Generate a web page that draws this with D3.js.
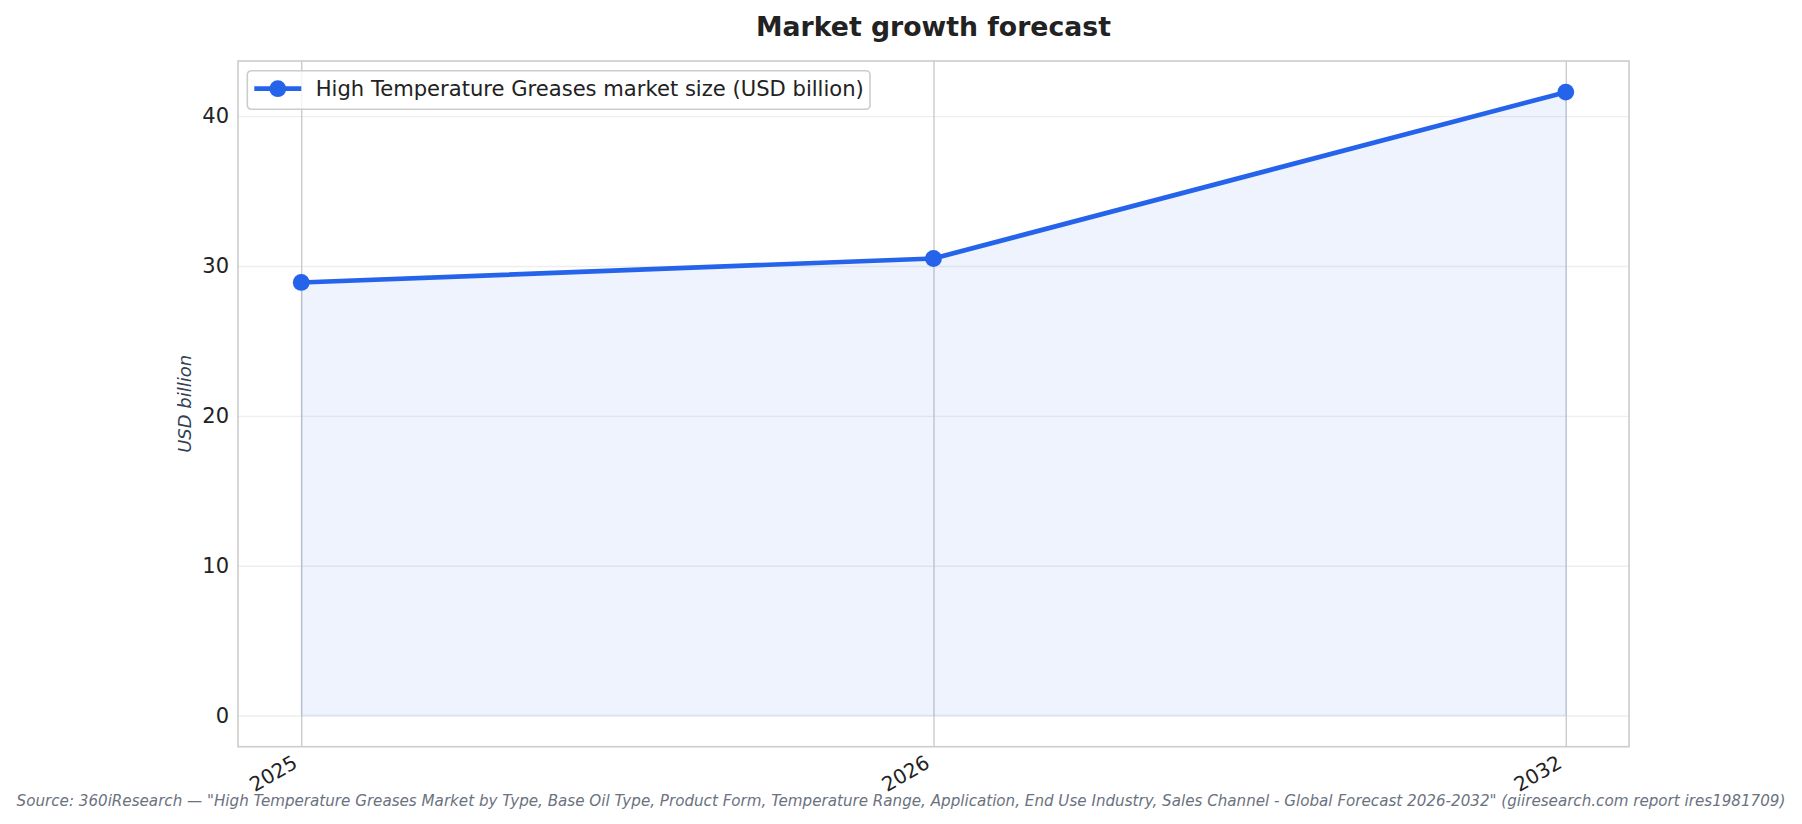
<!DOCTYPE html>
<html lang="en">
  <head>
    <meta charset="UTF-8" />
    <title>Market growth forecast</title>
    <style>
      body { margin: 0; background: #fff; }
      text { font-family: "DejaVu Sans", sans-serif; }
    </style>
  </head>
  <body>
    <svg id="svg" width="1802" height="824"></svg>

    <script src="https://cdn.jsdelivr.net/npm/d3@7"></script>
    <script>
      const WIDTH = 1802;
      const HEIGHT = 824;
      const PLOT = { left: 238, right: 1629, top: 61, bottom: 746.7 };
      const BLUE = "#2563eb";

      // data
      const YEARS = ["2025", "2026", "2032"];
      const VALUES = [28.9, 30.5, 41.6];
      const Y_TICKS = [0, 10, 20, 30, 40];
      const SERIES_LABEL = "High Temperature Greases market size (USD billion)";
      const TITLE = "Market growth forecast";
      const Y_LABEL = "USD billion";
      const SOURCE =
        'Source: 360iResearch \u2014 "High Temperature Greases Market by Type, Base Oil Type, Product Form, Temperature Range, Application, End Use Industry, Sales Channel - Global Forecast 2026-2032" (giiresearch.com report ires1981709)';

      const data = YEARS.map((year, i) => ({ year, value: VALUES[i] }));

      const svg = d3.select("#svg");
      svg.append("rect").attr("width", WIDTH).attr("height", HEIGHT).attr("fill", "#fff");

      // Scales
      const xScale = d3
        .scalePoint()
        .domain(YEARS)
        .range([PLOT.left, PLOT.right])
        .padding(0.1);

      const maxVal = d3.max(VALUES);
      const pad = maxVal * 0.05;
      const yScale = d3
        .scaleLinear()
        .domain([0 - pad, maxVal + pad])
        .range([PLOT.bottom, PLOT.top]);

      // horizontal grid
      svg
        .append("g")
        .attr("transform", `translate(${PLOT.left}, 0)`)
        .call(
          d3.axisLeft(yScale).tickValues(Y_TICKS).tickSize(-(PLOT.right - PLOT.left)).tickFormat("")
        )
        .call((g) => g.select(".domain").remove())
        .call((g) => g.selectAll("line").attr("stroke", "#eeeeee").attr("stroke-width", 1.4));

      // vertical lines at each year
      svg
        .append("g")
        .attr("transform", `translate(0, ${PLOT.bottom})`)
        .call(d3.axisBottom(xScale).tickSize(-(PLOT.bottom - PLOT.top)).tickFormat(""))
        .call((g) => g.select(".domain").remove())
        .call((g) => g.selectAll("line").attr("stroke", "#cbcbce").attr("stroke-width", 1.4));

      // area
      const area = d3
        .area()
        .x((d) => xScale(d.year))
        .y0(yScale(0))
        .y1((d) => yScale(d.value));

      svg
        .append("path")
        .attr("d", area(data))
        .attr("fill", BLUE)
        .attr("fill-opacity", 0.08)
        .attr("stroke", BLUE)
        .attr("stroke-opacity", 0.08)
        .attr("stroke-width", 1.5);

      // line + markers
      const line = d3
        .line()
        .x((d) => xScale(d.year))
        .y((d) => yScale(d.value));

      svg
        .append("path")
        .attr("d", line(data))
        .attr("fill", "none")
        .attr("stroke", BLUE)
        .attr("stroke-width", 4.7)
        .attr("stroke-linejoin", "round")
        .attr("stroke-linecap", "round");

      svg
        .selectAll("circle.pt")
        .data(data)
        .join("circle")
        .attr("class", "pt")
        .attr("cx", (d) => xScale(d.year))
        .attr("cy", (d) => yScale(d.value))
        .attr("r", 8.4)
        .attr("fill", BLUE);

      // frame
      svg
        .append("rect")
        .attr("x", PLOT.left)
        .attr("y", PLOT.top)
        .attr("width", PLOT.right - PLOT.left)
        .attr("height", PLOT.bottom - PLOT.top)
        .attr("fill", "none")
        .attr("stroke", "#cccccc")
        .attr("stroke-width", 1.6);

      // y axis labels
      svg
        .append("g")
        .attr("transform", `translate(${PLOT.left}, 0)`)
        .call(d3.axisLeft(yScale).tickValues(Y_TICKS).tickSize(0).tickPadding(9))
        .call((g) => g.select(".domain").remove())
        .call((g) =>
          g
            .selectAll("text")
            .attr("font-family", "DejaVu Sans")
            .attr("font-size", 21)
            .attr("fill", "#222")
        );

      // x axis labels, rotated
      svg
        .append("g")
        .attr("transform", `translate(0, ${PLOT.bottom})`)
        .call(d3.axisBottom(xScale).tickSize(0))
        .call((g) => g.select(".domain").remove())
        .call((g) =>
          g
            .selectAll("text")
            .attr("font-family", "DejaVu Sans")
            .attr("font-size", 20)
            .attr("fill", "#222")
            .attr("text-anchor", "end")
            .attr("dy", null)
            .attr("y", 0)
            .attr("transform", "translate(-3, 20) rotate(-30)")
        );

      // y axis title
      svg
        .append("text")
        .attr("transform", `translate(191, ${(PLOT.top + PLOT.bottom) / 2}) rotate(-90)`)
        .attr("text-anchor", "middle")
        .attr("font-size", 18)
        .attr("font-style", "italic")
        .attr("fill", "#334155")
        .text(Y_LABEL);

      // title
      svg
        .append("text")
        .attr("x", (PLOT.left + PLOT.right) / 2)
        .attr("y", 35.7)
        .attr("text-anchor", "middle")
        .attr("font-size", 26.7)
        .attr("font-weight", "bold")
        .attr("fill", "#222")
        .text(TITLE);

      // legend
      const legend = svg.append("g").attr("transform", "translate(247.3, 70.7)");
      legend
        .append("rect")
        .attr("width", 870 - 247.3)
        .attr("height", 38.6)
        .attr("rx", 4)
        .attr("fill", "#fff")
        .attr("fill-opacity", 0.8)
        .attr("stroke", "#cccccc")
        .attr("stroke-width", 1.6);
      legend
        .append("line")
        .attr("x1", 7)
        .attr("x2", 54)
        .attr("y1", 18)
        .attr("y2", 18)
        .attr("stroke", BLUE)
        .attr("stroke-width", 4.7);
      legend.append("circle").attr("cx", 30.5).attr("cy", 18).attr("r", 8.4).attr("fill", BLUE);
      legend
        .append("text")
        .attr("x", 68.4)
        .attr("y", 18)
        .attr("dy", "0.35em")
        .attr("font-size", 21.1)
        .attr("fill", "#222")
        .text(SERIES_LABEL);

      // source note, sized to span the same width as in the reference
      const source = svg
        .append("text")
        .attr("x", WIDTH / 2)
        .attr("y", 806)
        .attr("text-anchor", "middle")
        .attr("font-size", 15)
        .attr("font-style", "italic")
        .attr("fill", "#6b7280")
        .text(SOURCE);
      const len = source.node().getComputedTextLength();
      source.attr("font-size", (15 * 1770) / len);
    </script>
  </body>
</html>
